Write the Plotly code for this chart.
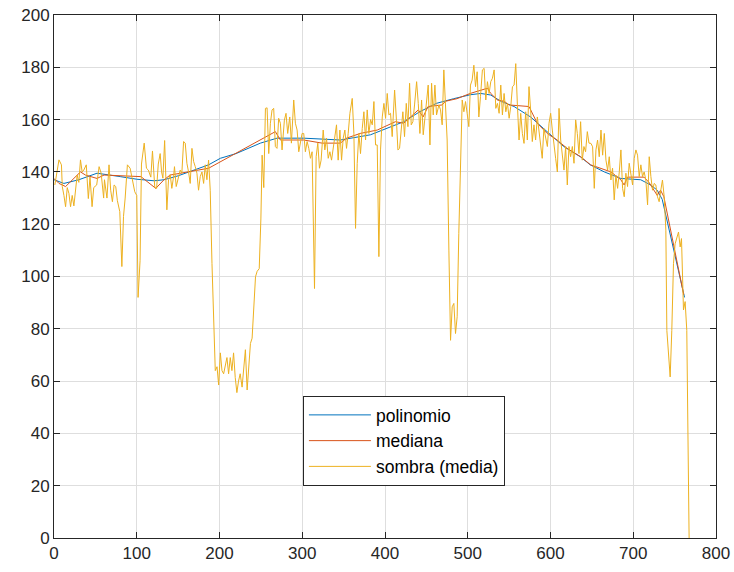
import plotly.graph_objects as go

# ---- data ----
shadow_x = [1, 4, 6, 9, 10, 12, 14, 16, 18, 20, 22, 24, 26, 28, 30, 32, 34, 36, 39, 41.5, 43.5, 46, 48, 51.6, 54.5, 57, 60, 61, 64, 66.5, 68.5, 70.6, 72.6, 74.6, 76.6, 79.5, 82, 84, 86, 88.7, 92, 95, 97.6, 100, 101.6, 104, 105.7, 109, 111.7, 114, 117, 119, 121.8, 124, 126, 128.3, 130, 131.6, 133.7, 136.4, 138.4, 140.4, 142.4, 144.5, 145.6, 147.7, 150.5, 152.5, 154.5, 156.6, 158.6, 160.6, 162.6, 164.6, 166.7, 168.7, 170.7, 172.7, 174.7, 176.7, 178.8, 180.8, 182.8, 184.8, 186.8, 188.8, 190.9, 192.9, 194.9, 197, 199, 201, 203, 205, 207, 209, 211, 213, 215, 217, 219, 221, 223, 225, 227.3, 229.3, 231.3, 233.4, 235.4, 237.4, 239.4, 241.4, 243.5, 245.5, 248, 250, 251.5, 253.5, 255.5, 257.5, 259.5, 261.5, 263.5, 265.5, 267.5, 269.5, 271.5, 273.6, 275.6, 278.4, 280.4, 282.4, 284.9, 286.9, 289.7, 291.7, 293.8, 295.8, 297.8, 299.8, 301.8, 303.8, 305.9, 307.9, 309.9, 311.9, 314.8, 316.8, 318.8, 320.8, 322.8, 325.3, 327.3, 329.3, 331.4, 333.4, 335.4, 337.4, 339.4, 341.4, 343.4, 345.5, 347.5, 349.5, 351.5, 353.5, 355.5, 357.6, 360.4, 362.4, 364.4, 366.4, 368.4, 370.4, 372.5, 374.5, 376.5, 378.5, 380.5, 382.6, 384.6, 386.6, 388.6, 390.6, 392.6, 394.6, 396.7, 398.7, 400.7, 402.7, 404.7, 406.7, 408.7, 411.6, 413.6, 415.6, 417.6, 419.6, 421.6, 423.6, 425.7, 427.7, 429.7, 431.7, 433.7, 435.7, 438.2, 440.2, 442.2, 444.2, 446.2, 448.2, 450.2, 452.2, 454.3, 456.3, 458.3, 460.3, 462.3, 465.1, 467.1, 469.1, 471.1, 473.1, 475.1, 477.2, 479.2, 481.2, 483.2, 485.2, 487.2, 489.2, 491.2, 493.3, 495.3, 497.3, 499.3, 501.3, 503.3, 505.3, 507.4, 509.4, 511.4, 513.4, 515.4, 517.7, 519.8, 521.8, 523.8, 525.8, 527.8, 529.8, 531.9, 533.9, 535.9, 537.9, 539.9, 541.9, 543.9, 546, 548, 550, 552, 554, 556, 558, 560, 562, 564, 566, 568, 570, 572, 574, 576, 578, 580, 582, 584.1, 586, 588, 590, 592, 594.2, 596.2, 598.2, 600.2, 602.2, 604.2, 606.2, 608.3, 610.3, 612.3, 614.3, 616.3, 618.3, 620.3, 622.3, 624.3, 626.4, 628.4, 630.4, 632.4, 634.4, 636.4, 638.4, 640.4, 642.4, 644.5, 646.5, 648.9, 650.9, 652.9, 654.9, 656.9, 658.9, 661, 663, 665, 667, 669, 671, 673, 675, 677, 679, 681.1, 683.1, 685.1, 687.1, 689.1, 691.1, 693.1, 695.1, 697.2, 699.2, 701.2, 703.2, 705.2, 707.2, 709.2, 711.2, 713.2, 715.2, 717.3, 719.3, 721.3, 723.3, 725.3, 727.3, 729.3, 731.3, 733.3, 735.3, 737.4, 739.4, 740.6, 742.6, 744.6, 746.6, 748.6, 750.6, 752.7, 754.7, 756.7, 758.3, 760.7, 762.7, 764.7, 766.3, 767.5]
shadow_y = [135, 141, 144.6, 142.7, 134.4, 131, 126.7, 134, 131.8, 126.7, 131, 127, 133.7, 138.8, 136, 144.6, 140, 140.7, 142.7, 129.8, 138, 126.7, 134, 135, 142, 139.5, 130, 137, 130, 142.7, 133, 128.6, 135, 134.4, 129, 124.8, 103.8, 123, 130, 142.7, 141.4, 136, 132.4, 131, 92, 106, 143, 151, 141.4, 140.7, 138, 148, 134, 133.7, 143, 147, 140, 137.6, 152, 125.5, 137, 139, 133.7, 138.2, 142, 134.4, 137.6, 140.7, 139.5, 151.6, 151, 143.3, 140, 135.6, 149, 144, 142, 139.5, 133, 138.2, 140, 135.6, 142.7, 137, 144.5, 133, 105, 82, 64, 65.5, 58.5, 70.8, 64, 62.8, 66.6, 69, 62.8, 69, 64, 70.8, 61.4, 55.6, 60, 62.8, 57.7, 65.5, 72, 56.6, 65.5, 74.4, 76.4, 90, 99.9, 102, 103, 122, 146.4, 134, 164.3, 164.5, 147, 158.6, 163.7, 164.3, 149.7, 149, 160.5, 158.6, 148.4, 159.8, 162.4, 154.7, 161, 151, 167.5, 158.6, 156, 147.7, 151.6, 154.7, 154.7, 147.7, 151.6, 149, 145.2, 147.7, 95.4, 145.8, 151, 141.4, 144.5, 156, 148.4, 152.9, 145.2, 147.7, 144.5, 149.7, 154.2, 158, 144.5, 156, 144.5, 152.9, 156, 149, 154.7, 162.4, 168.1, 154.7, 118.4, 143.2, 154.7, 147, 156.6, 163, 152.2, 163.7, 154.7, 160, 158, 166.9, 150.3, 150.3, 107.6, 148.4, 161, 166.2, 160.5, 170, 161.8, 162.4, 153.5, 171.3, 161, 148.4, 149, 155.4, 163, 153.5, 166.2, 157.3, 173.9, 158, 159.2, 165.6, 174.5, 166.2, 154.7, 167.5, 154.2, 160.5, 166.2, 173.2, 150.3, 173.9, 161.8, 173.2, 161.8, 165.6, 163.7, 158, 179, 167.5, 152.2, 110.1, 75.6, 88.4, 89.7, 78.2, 84.6, 116.5, 142, 167.5, 163, 166.9, 162.4, 157.3, 173.2, 175.1, 180.8, 172.6, 178.3, 161, 168.8, 179, 179.6, 167.5, 174.5, 170, 174.5, 175.8, 179, 164.3, 166.2, 162.4, 173.2, 161.8, 170, 163, 166.2, 160.5, 165, 172.6, 173.2, 181.4, 165.6, 152.2, 162.4, 154.7, 150.9, 163, 152.2, 172.6, 163.7, 151.6, 158, 152.2, 161, 156, 149.7, 145.2, 156.6, 153.5, 149.7, 158.6, 162.4, 156, 149.7, 145.2, 140, 164.3, 152.2, 146.4, 140.7, 149.7, 135, 149.7, 145.8, 149.7, 143.3, 159.9, 154.7, 147, 159.2, 144.5, 149.7, 147.7, 155.4, 151, 150.9, 149.6, 133.7, 148.4, 152.2, 145.8, 156, 146.4, 154.7, 144.5, 140.7, 145.8, 136.9, 141.4, 129.3, 138.8, 133.7, 140, 148.4, 133.7, 130.5, 139.5, 134.4, 143.3, 138.2, 135, 145.2, 148.4, 146.4, 138.2, 142.7, 138.2, 140, 136.9, 127.4, 145.8, 138.2, 133, 135.6, 135, 130.5, 128.6, 133, 136.9, 130.5, 117.7, 79.4, 71.8, 61.6, 79.4, 104.9, 112.5, 115.1, 117, 111.3, 114.5, 87.2, 90.4, 79.4, 28.4, 0]

poly_x = [0, 12, 30, 52, 80, 100, 121, 133, 150, 168.7, 186.8, 201, 220, 249.4, 269.5, 301.8, 346, 382.5, 402.7, 422.6, 442, 462, 483, 503, 515.7, 527.8, 540, 556, 576, 596, 616, 636, 648, 665, 685, 709, 721, 729, 735, 762]
poly_y = [137, 135.6, 137, 139.5, 138.2, 137.2, 136.6, 137, 138.5, 140.7, 142.7, 145.2, 147, 151, 152.9, 152.9, 152.2, 154.2, 156.6, 159.2, 163, 166.2, 168, 169.5, 170, 169.4, 167, 165, 161, 155.4, 149.7, 145.8, 142.7, 140, 137.5, 137, 135, 133, 129.5, 92]

median_x = [0, 6, 14, 32, 38, 52, 60.5, 105, 123, 133, 140.4, 186.8, 267.5, 273.6, 301.8, 324, 346, 353.5, 370, 382.5, 390.6, 412.6, 422.6, 440.2, 446, 452, 469, 473, 487, 503, 515.7, 523.8, 527.8, 535.9, 543.9, 550, 574, 584, 596, 608, 620, 636.4, 648.5, 673, 685, 689, 693, 713, 719, 729, 733, 737, 761]
median_y = [137.5, 135.6, 134.4, 140, 138.8, 137.5, 138.8, 138.2, 133.7, 137, 138.8, 141.4, 155.4, 152.2, 152.2, 151, 151, 152.9, 154.7, 155.4, 156, 159.2, 158.6, 163.7, 161, 165, 165.6, 167, 168, 170, 171.3, 172, 170, 167.5, 167, 165.6, 165, 158.6, 154.7, 152.2, 149, 145.8, 142.7, 140, 137, 135, 138, 138, 136, 131, 133, 130.5, 93]

series_names = ["polinomio", "mediana", "sombra (media)"]
series_colors = ["#0072BD", "#D95319", "#EDB120"]

x_ticks = list(range(0, 801, 100))
y_ticks = list(range(0, 201, 20))

FONT = "Liberation Sans, Arial, Helvetica, sans-serif"
AX = "#262626"

fig = go.Figure()
fig.add_trace(go.Scatter(x=poly_x, y=poly_y, mode="lines", name=series_names[0],
                         line=dict(color=series_colors[0], width=1)))
fig.add_trace(go.Scatter(x=median_x, y=median_y, mode="lines", name=series_names[1],
                         line=dict(color=series_colors[1], width=1)))
fig.add_trace(go.Scatter(x=shadow_x, y=shadow_y, mode="lines", name=series_names[2],
                         line=dict(color=series_colors[2], width=1)))

axis_common = dict(showline=True, linecolor=AX, linewidth=1, mirror="ticks",
                   ticks="inside", ticklen=6, tickcolor=AX, tickwidth=1,
                   showgrid=True, gridcolor="#dedede", gridwidth=1, zeroline=False,
                   automargin=False, ticklabeloverflow="allow",
                   tickfont=dict(family=FONT, size=17, color=AX))

fig.update_xaxes(range=[0, 800], tickvals=x_ticks, **axis_common)
fig.update_yaxes(range=[0, 200], tickvals=y_ticks, **axis_common)

fig.update_layout(
    width=734, height=572,
    margin=dict(l=54, r=18, t=15, b=34, autoexpand=False),
    paper_bgcolor="white", plot_bgcolor="white",
    showlegend=True,
    legend=dict(x=0.376, y=0.2715, xanchor="left", yanchor="top",
                bgcolor="white", bordercolor=AX, borderwidth=1,
                itemwidth=62, tracegroupgap=0,
                font=dict(family=FONT, size=17.5, color="black")),
)

# remove the browser's default 8px body margin so the figure fills the window
fig.write_html("out.html", config={"displayModeBar": False},
               post_script="document.body.style.margin='0px';")
